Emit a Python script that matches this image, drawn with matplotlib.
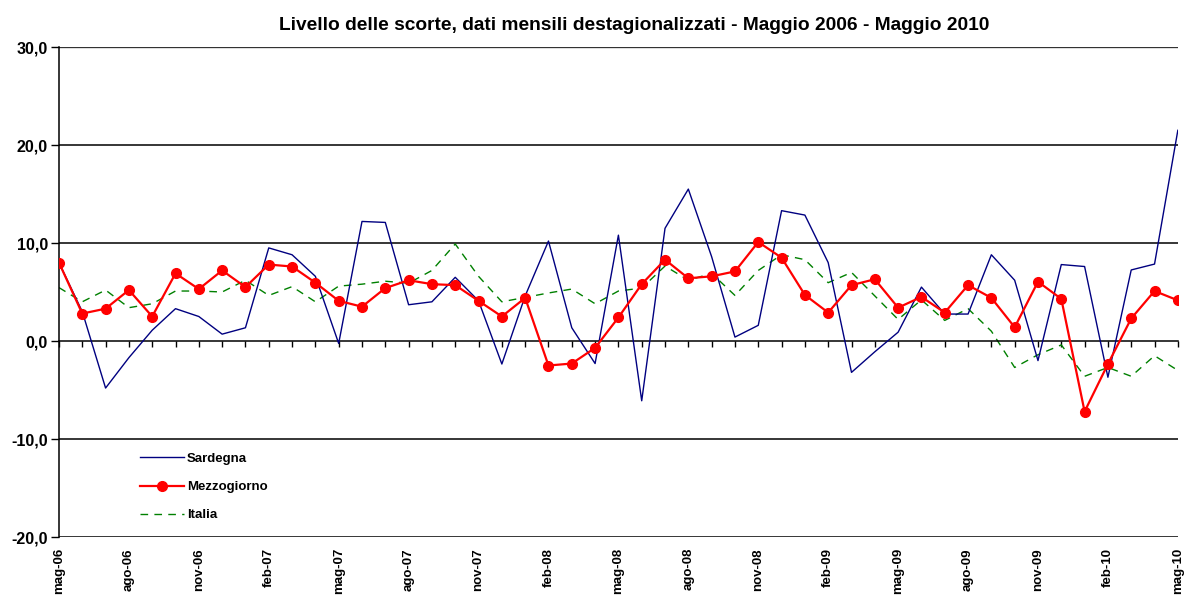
import numpy as np
import matplotlib.pyplot as plt

plt.rcParams['font.family'] = ['Liberation Sans', 'DejaVu Sans']
plt.rcParams['font.weight'] = 'bold'

# monthly labels from mag-06 to mag-10
mesi = ['gen', 'feb', 'mar', 'apr', 'mag', 'giu', 'lug', 'ago', 'set', 'ott', 'nov', 'dic']
labels = []
for k in range(49):
    m = (4 + k) % 12
    y = 6 + (4 + k) // 12
    labels.append(f"{mesi[m]}-{y:02d}")

sardegna = [8.0, 3.0, -4.8, -1.7, 1.1, 3.3, 2.5, 0.7, 1.35, 9.5,
            8.8, 6.6, -0.25, 12.2, 12.1, 3.7, 4.0, 6.5, 4.1, -2.35,
            4.6, 10.2, 1.35, -2.3, 10.8, -6.1, 11.5, 15.5, 8.6, 0.4,
            1.6, 13.3, 12.85, 8.0, -3.2, -1.1, 0.9, 5.5, 2.75, 2.75,
            8.8, 6.2, -2.0, 7.8, 7.6, -3.7, 7.25, 7.85, 21.5]

mezzogiorno = [8.0, 2.8, 3.3, 5.2, 2.5, 6.9, 5.3, 7.2, 5.5, 7.8,
               7.6, 5.95, 4.1, 3.5, 5.4, 6.2, 5.8, 5.7, 4.1, 2.5,
               4.4, -2.5, -2.3, -0.7, 2.4, 5.8, 8.3, 6.4, 6.6, 7.1,
               10.1, 8.5, 4.7, 2.9, 5.7, 6.3, 3.4, 4.5, 2.9, 5.7,
               4.4, 1.4, 6.05, 4.3, -7.2, -2.35, 2.3, 5.1, 4.15]

italia = [5.45, 4.0, 5.2, 3.4, 3.8, 5.1, 5.1, 5.0, 6.2, 4.65,
          5.55, 4.0, 5.6, 5.8, 6.1, 5.9, 7.2, 9.9, 6.6, 4.0,
          4.45, 4.9, 5.3, 3.8, 5.1, 5.4, 7.65, 6.2, 6.9, 4.65,
          7.2, 8.8, 8.3, 5.95, 7.0, 4.6, 2.2, 4.2, 2.1, 3.3,
          1.0, -2.7, -1.4, -0.4, -3.6, -2.7, -3.6, -1.5, -3.0]

x = np.arange(len(labels))

fig = plt.figure(figsize=(11.84, 5.98), dpi=100)
ax = fig.add_axes([0.0498, 0.102, 0.945, 0.8194])

for yv in [-20, -10, 10, 20, 30]:
    ax.axhline(yv, color='black', lw=1.1, zorder=1)
ax.axhline(29.85, color='#d8d8d8', lw=1.2, zorder=0)

ax.plot(x, sardegna, color='#000080', lw=1.0, label='Sardegna', zorder=3)
ax.plot(x, mezzogiorno, color='#ff0000', lw=1.6, marker='o', ms=7,
        label='Mezzogiorno', zorder=4)
ax.plot(x, italia, color='#008000', lw=1.0, ls=(0, (5.5, 4.5)), label='Italia', zorder=2)

ax.set_xlim(0, 48)
ax.set_ylim(-20, 30)

ax.spines['right'].set_visible(False)
ax.spines['top'].set_visible(False)
ax.spines['left'].set_linewidth(1.1)
ax.spines['bottom'].set_position(('data', 0))
ax.spines['bottom'].set_linewidth(1.1)

ax.set_xticks(x)
ax.tick_params(axis='x', direction='out', length=4, width=1, labelbottom=False)

sec = ax.secondary_xaxis(0)
sec.set_xticks(x[::3], labels[::3], rotation=90, fontsize=9.5, fontweight='bold')
sec.tick_params(length=0, pad=8)
sec.spines['bottom'].set_visible(False)

ax.set_yticks([-20, -10, 0, 10, 20, 30])
ax.set_yticklabels([f"{v:.1f}".replace('.', ',') for v in [-20, -10, 0, 10, 20, 30]],
                   fontsize=11.5, fontweight='bold')
ax.tick_params(axis='y', direction='out', length=6, width=1, pad=2)

fig.text(0.536, 0.957, "Livello delle scorte, dati mensili destagionalizzati - Maggio 2006 - Maggio 2010",
         ha='center', va='center', fontsize=13.8, fontweight='bold')

leg = ax.legend(loc='upper left', bbox_to_anchor=(0.062, 0.196), frameon=False,
                handlelength=3.3, labelspacing=1.2, handletextpad=0.25,
                prop={'size': 9.5, 'weight': 'bold'})

fig.savefig('out.png', dpi=100)
